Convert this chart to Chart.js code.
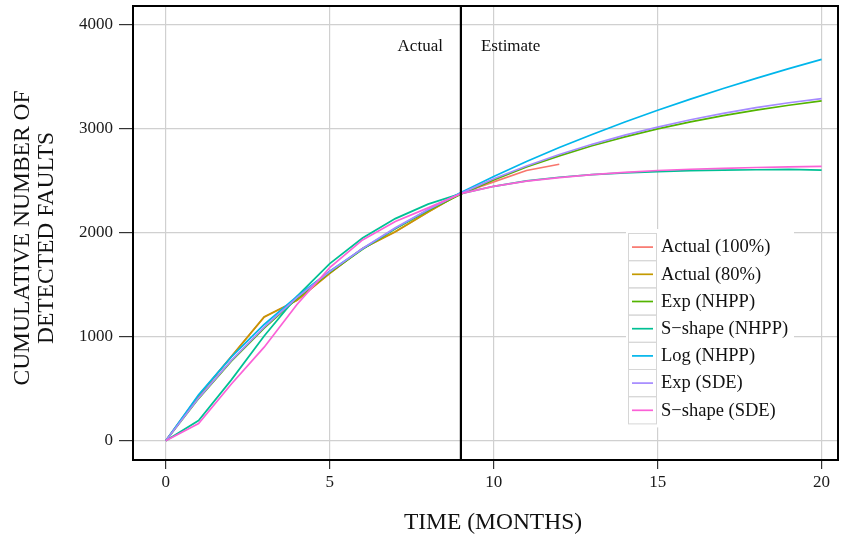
<!DOCTYPE html>
<html><head><meta charset="utf-8">
<script src="https://cdn.jsdelivr.net/npm/chart.js@4/dist/chart.umd.min.js"></script>
<style>html,body{margin:0;padding:0;background:#fff}canvas{display:block}</style>
</head><body>
<canvas id="c" width="846" height="541"></canvas>
<script>
// ---- data ----
const months = [0,1,2,3,4,5,6,7,8,9,10,11,12,13,14,15,16,17,18,19,20];
const actualMonths = [0,1,2,3,4,5,6,7,8,9,10,11,12];
const actual100 = [0,430,810,1190,1350,1610,1850,2010,2200,2380,2490,2600,2660];
const actual80Months = [0,1,2,3,4,5,6,7,8,9];
const actual80 = [0,430,810,1190,1350,1610,1850,2010,2200,2380];
const expNHPP   = [0,405,765,1084,1368,1619,1842,2040,2216,2372,2510,2633,2741,2838,2924,3000,3068,3128,3181,3228,3270];
const sNHPP     = [0,194,585,1008,1389,1704,1950,2137,2276,2377,2448,2500,2535,2561,2578,2590,2598,2603,2607,2610,2604];
const logNHPP   = [0,441,806,1118,1389,1631,1847,2043,2223,2389,2543,2687,2821,2947,3067,3180,3287,3389,3487,3580,3670];
const expSDE    = [0,410,772,1092,1376,1627,1850,2048,2224,2380,2520,2644,2754,2852,2940,3018,3088,3150,3205,3252,3292];
const sSDE      = [0,165,545,900,1310,1665,1932,2109,2240,2377,2447,2497,2532,2560,2582,2600,2612,2621,2629,2635,2640];
const seriesLabels = ['Actual (100%)','Actual (80%)','Exp (NHPP)','S\u2212shape (NHPP)','Log (NHPP)','Exp (SDE)','S\u2212shape (SDE)'];
const xTickValues = [0,5,10,15,20];
const yTickValues = [0,1000,2000,3000,4000];
const splitMonth = 9;

// ---- styling ----
const palette = ['#F8766D','#C49A00','#53B400','#00C094','#00B6EB','#A58AFF','#FB61D7'];
const serif = "'Liberation Serif','DejaVu Serif',serif";

const seriesX = [actualMonths, actual80Months, months, months, months, months, months];
const seriesY = [actual100, actual80, expNHPP, sNHPP, logNHPP, expSDE, sSDE];

const datasets = seriesY.map((ys, i) => ({
  label: seriesLabels[i],
  data: ys.map((v, k) => ({x: seriesX[i][k], y: v})),
  borderColor: palette[i],
  backgroundColor: palette[i],
  borderWidth: 1.7,
  pointRadius: 0,
  tension: 0,
  fill: false,
  order: 10 - i
}));

const decor = {
  id: 'decor',
  beforeDraw(chart) {
    const c = chart.ctx;
    c.save(); c.fillStyle = '#fff'; c.fillRect(0, 0, chart.width, chart.height); c.restore();
  },
  afterDatasetsDraw(chart) {
    const c = chart.ctx, a = chart.chartArea, xs = chart.scales.x;
    c.save();
    // split line
    const vx = xs.getPixelForValue(splitMonth);
    c.strokeStyle = '#000'; c.lineWidth = 2.2;
    c.beginPath(); c.moveTo(vx, a.top); c.lineTo(vx, a.bottom); c.stroke();
    // panel border
    c.lineWidth = 2;
    c.strokeRect(a.left, a.top, a.right - a.left, a.bottom - a.top);
    // Actual / Estimate annotations
    c.fillStyle = '#111'; c.font = '17px ' + serif; c.textBaseline = 'middle';
    c.textAlign = 'right'; c.fillText('Actual', vx - 18, 47);
    c.textAlign = 'left';  c.fillText('Estimate', vx + 20, 47);
    // legend
    const lx = 628, ly = 233, rowH = 27.2, cw = 28;
    c.fillStyle = '#fff'; c.fillRect(lx - 2, ly - 4, 168, rowH * 7 + 8);
    c.font = '18.5px ' + serif; c.textAlign = 'left'; c.textBaseline = 'middle';
    chart.data.datasets.forEach((d, i) => {
      const y0 = ly + i * rowH;
      c.strokeStyle = '#d6d6d6'; c.lineWidth = 1;
      c.strokeRect(lx + 0.5, y0 + 0.5, cw, rowH);
      c.strokeStyle = d.borderColor; c.lineWidth = 1.7;
      c.beginPath(); c.moveTo(lx + 4, y0 + rowH / 2 + 0.5); c.lineTo(lx + cw - 3, y0 + rowH / 2 + 0.5); c.stroke();
      c.fillStyle = '#111'; c.fillText(d.label, lx + cw + 5, y0 + rowH / 2 + 1);
    });
    // axis titles
    c.font = '23.5px ' + serif; c.fillStyle = '#111'; c.textAlign = 'center'; c.textBaseline = 'middle';
    c.fillText('TIME (MONTHS)', 493, 523);
    c.translate(35, 238); c.rotate(-Math.PI / 2);
    c.fillText('CUMULATIVE NUMBER OF', 0, -12);
    c.fillText('DETECTED FAULTS', 0, 12);
    c.restore();
  }
};

new Chart(document.getElementById('c'), {
  type: 'line',
  data: { datasets },
  plugins: [decor],
  options: {
    responsive: false, animation: false,
    layout: { padding: { top: 6, right: 8, left: 0, bottom: 0 } },
    plugins: { legend: { display: false }, tooltip: { enabled: false } },
    scales: {
      x: {
        type: 'linear', min: -1, max: 20.5,
        afterBuildTicks: s => { s.ticks = xTickValues.map(v => ({ value: v })); },
        afterFit: s => { s.height = 81; s.paddingLeft = 0; s.paddingRight = 0; },
        grid: { color: '#d0d0d0', lineWidth: 1.2, tickLength: 9, tickColor: '#333', tickWidth: 1.2 },
        border: { display: false },
        ticks: { font: { family: serif, size: 17 }, color: '#1a1a1a', padding: 3, maxRotation: 0,
                 callback: v => String(v) }
      },
      y: {
        min: -186, max: 4183,
        afterBuildTicks: s => { s.ticks = yTickValues.map(v => ({ value: v })); },
        afterFit: s => { s.width = 133; s.paddingTop = 0; s.paddingBottom = 0; },
        grid: { color: '#d0d0d0', lineWidth: 1.2, tickLength: 14, tickColor: '#333', tickWidth: 1.2 },
        border: { display: false },
        ticks: { font: { family: serif, size: 17 }, color: '#1a1a1a', padding: 6,
                 callback: v => String(v) }
      }
    }
  }
});
</script>
</body></html>
